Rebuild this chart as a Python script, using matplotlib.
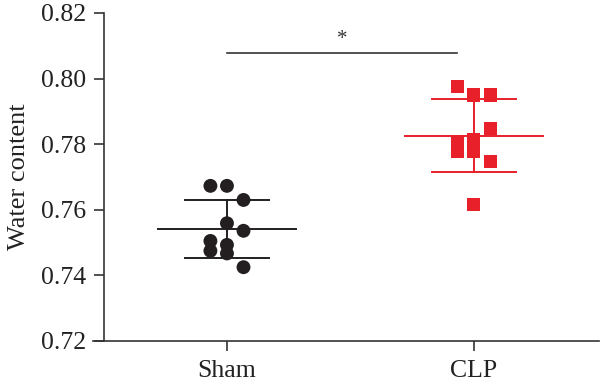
import matplotlib.pyplot as plt
import numpy as np

# Water content per group
groups = ["Sham", "CLP"]
sham_values = [0.7673, 0.7673, 0.7630, 0.7559, 0.7536, 0.7505, 0.7475, 0.7493, 0.7467, 0.7425]
sham_offsets = [-0.067, 0.0, 0.067, 0.0, 0.067, -0.067, -0.067, 0.0, 0.0, 0.067]
clp_values = [0.7977, 0.7950, 0.7950, 0.7848, 0.7808, 0.7779, 0.7813, 0.7779, 0.7747, 0.7615]
clp_offsets = [-0.067, 0.0, 0.067, 0.067, -0.067, -0.067, 0.0, 0.0, 0.067, 0.0]

sham_mean, sham_sd = 0.7541, 0.0088
clp_mean, clp_sd = 0.7826, 0.0111

black = "#231f20"
red = "#e8202a"

plt.rcParams['font.family'] = ['Liberation Serif', 'DejaVu Serif']

fig = plt.figure(figsize=(6, 3.89), dpi=100)
ax = fig.add_axes([0.155, 0.1234, 0.843, 0.8432])


def draw_group(x, values, offsets, mean, sd, color, marker):
    ax.plot([x - 0.28, x + 0.28], [mean, mean], color=color, lw=1.4, zorder=2)
    ax.plot([x - 0.17, x + 0.17], [mean + sd, mean + sd], color=color, lw=1.4, zorder=2)
    ax.plot([x - 0.17, x + 0.17], [mean - sd, mean - sd], color=color, lw=1.4, zorder=2)
    ax.plot([x, x], [mean - sd, mean + sd], color=color, lw=1.4, zorder=2)
    xs = x + np.array(offsets)
    ax.scatter(xs, values, s=100 if marker == "o" else 90, marker=marker,
               color=color, edgecolors="none", zorder=3)


draw_group(0, sham_values, sham_offsets, sham_mean, sham_sd, black, "o")
draw_group(1, clp_values, clp_offsets, clp_mean, clp_sd, red, "s")

# significance bar
ax.plot([0, 0.93], [0.8078, 0.8078], color="#333333", lw=1.2, clip_on=False)
ax.text(0.465, 0.8118, "*", ha="center", va="center", fontsize=15, color="#333333")

ax.set_xlim(-0.5425, 1.506)
ax.set_ylim(0.72, 0.82)
ax.set_yticks([0.72, 0.74, 0.76, 0.78, 0.80, 0.82])
ax.set_yticklabels(["0.72", "0.74", "0.76", "0.78", "0.80", "0.82"])
ax.set_xticks([0, 1])
ax.set_xticklabels(groups)

ax.spines["top"].set_visible(False)
ax.spines["right"].set_visible(False)
ax.spines["left"].set_position(("data", -0.498))
for s in ["left", "bottom"]:
    ax.spines[s].set_color("#333333")
    ax.spines[s].set_linewidth(1.2)

ax.tick_params(axis="both", length=7, width=1.2, color="#333333",
               labelsize=18.5, labelcolor="#222222")
ax.tick_params(axis="x", pad=7)
ax.tick_params(axis="y", pad=6)
ax.set_ylabel("Water content", fontsize=19, color="#222222", labelpad=8)

fig.savefig("out.png", dpi=100)
